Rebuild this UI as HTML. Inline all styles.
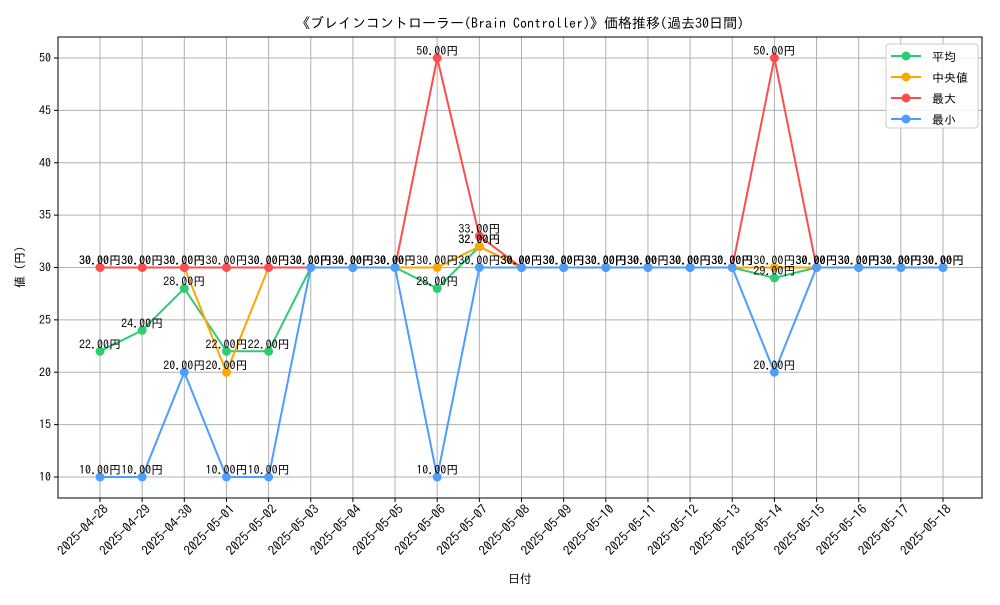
<!DOCTYPE html>
<html><head><meta charset="utf-8"><style>
body{margin:0;background:#fff}
svg text{font-family:"IPAGothic","Noto Sans CJK JP",monospace;}
</style></head><body>
<svg id="chart" width="1000" height="600" xmlns="http://www.w3.org/2000/svg">
<rect width="1000" height="600" fill="#fff"/>
<g id="grid"></g><g id="axes"></g><g id="series"></g><g id="labels"></g>
<text x="520" y="28" text-anchor="middle" font-size="14">《ブレインコントローラー(Brain Controller)》価格推移(過去30日間)</text>
<text x="520" y="583" text-anchor="middle" font-size="12">日付</text>
<text x="24" y="267" text-anchor="middle" font-size="12" transform="rotate(-90 24 267)">値 (円)</text>
<g id="legend"></g>
</svg>
<script>
const categories=["2025-04-28","2025-04-29","2025-04-30","2025-05-01","2025-05-02","2025-05-03","2025-05-04","2025-05-05","2025-05-06","2025-05-07","2025-05-08","2025-05-09","2025-05-10","2025-05-11","2025-05-12","2025-05-13","2025-05-14","2025-05-15","2025-05-16","2025-05-17","2025-05-18"];
const avgValues=[22,24,28,22,22,30,30,30,28,32,30,30,30,30,30,30,29,30,30,30,30];
const medianValues=[30,30,30,20,30,30,30,30,30,32,30,30,30,30,30,30,30,30,30,30,30];
const maxValues=[30,30,30,30,30,30,30,30,50,33,30,30,30,30,30,30,50,30,30,30,30];
const minValues=[10,10,20,10,10,30,30,30,10,30,30,30,30,30,30,30,20,30,30,30,30];
const yTicks=[10,15,20,25,30,35,40,45,50];
const seriesNames=["平均","中央値","最大","最小"];
const colors=["#2ecc71","#ffa500","#ff4d4d","#4d9dff"];
const L=58,R=982,T=37,B=498;
const ns="http://www.w3.org/2000/svg";
function xs(i){return 100+i*(943-100)/(categories.length-1);}
function ys(v){return 477-(v-10)*(477-58)/40;}
function mk(tag,attrs,parent){const e=document.createElementNS(ns,tag);for(const k in attrs)e.setAttribute(k,attrs[k]);parent.appendChild(e);return e;}
const grid=document.getElementById('grid'),axes=document.getElementById('axes'),sg=document.getElementById('series'),lg=document.getElementById('labels');
categories.forEach((c,i)=>{
 const l=mk('line',{x1:xs(i),x2:xs(i),y1:T,y2:B,stroke:'#b0b0b0','stroke-width':1},grid);
 
 
 mk('line',{x1:xs(i),x2:xs(i),y1:B,y2:B+4,stroke:'#000'},axes);
 const ax=xs(i)+9, ay=B+12;
 const t=mk('text',{x:ax,y:ay,'font-size':13,'text-anchor':'end',transform:`rotate(-45 ${ax} ${ay})`},axes);
 t.textContent=c;
 
 
});
yTicks.forEach(v=>{
 const l=mk('line',{x1:L,x2:R,y1:ys(v),y2:ys(v),stroke:'#b0b0b0','stroke-width':1},grid);
 
 
 mk('line',{x1:L-4,x2:L,y1:ys(v),y2:ys(v),stroke:'#000'},axes);
 const t=mk('text',{x:L-7,y:ys(v)+4,'font-size':12,'text-anchor':'end'},axes);
 t.textContent=v;
 
 
});
const fr=mk('rect',{x:L,y:T,width:R-L,height:B-T,fill:'none',stroke:'#000','stroke-width':1},axes);


[avgValues,medianValues,maxValues,minValues].forEach((vals,s)=>{
 const p=mk('polyline',{points:vals.map((v,i)=>xs(i)+','+ys(v)).join(' '),fill:'none',stroke:colors[s],'stroke-width':2},sg);
 
 
 vals.forEach((v,i)=>{
  const c=mk('circle',{cx:xs(i),cy:ys(v),r:4.5,fill:colors[s]},sg);
  
  
  const t=mk('text',{x:xs(i),y:ys(v)-3,'font-size':12,'text-anchor':'middle'},lg);
  t.textContent=v.toFixed(2)+'円';
  
  
 });
});
const lgd=document.getElementById('legend');
mk('rect',{x:886,y:44,width:92,height:84,rx:3,fill:'#fff','fill-opacity':0.85,stroke:'#ccc'},lgd);
seriesNames.forEach((n,k)=>{
 const y=56+k*21;
 mk('line',{x1:891,x2:921,y1:y,y2:y,stroke:colors[k],'stroke-width':2},lgd);
 mk('circle',{cx:906,cy:y,r:4.5,fill:colors[k]},lgd);
 const t=mk('text',{x:932,y:y+5,'font-size':12},lgd);
 t.textContent=(k==1?' ':'')+n;
 
 
});
</script>
</body></html>
